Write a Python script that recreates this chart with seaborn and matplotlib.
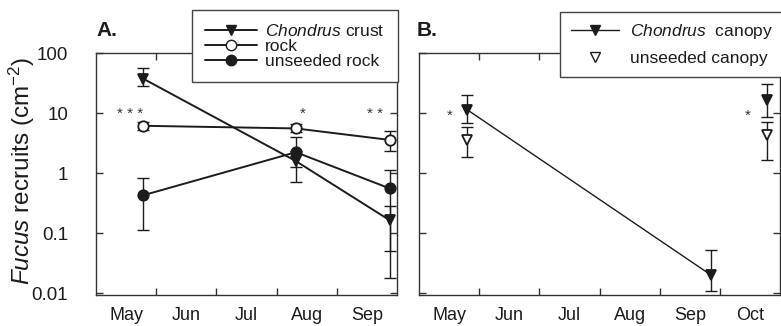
import numpy as np
import pandas as pd
import matplotlib
matplotlib.use("Agg")
import matplotlib.pyplot as plt
import seaborn as sns
from matplotlib.lines import Line2D
from matplotlib.ticker import NullLocator

# sampling dates as month number (5.0 = 1 May)
months_a = ["May", "Jun", "Jul", "Aug", "Sep"]
months_b = ["May", "Jun", "Jul", "Aug", "Sep", "Oct"]

# panel A: Fucus recruits per cm2, mean with lower / upper error
date_a = [5.78, 8.32, 9.88]
crust = [38, 1.6, 0.165]
crust_lo = [28, 0.72, 0.018]
crust_hi = [56, 2.4, 0.29]
rock = [6.2, 5.6, 3.6]
rock_lo = [5.3, 4.8, 2.4]
rock_hi = [7.2, 6.6, 5.0]
unseeded = [0.43, 2.25, 0.56]
unseeded_lo = [0.115, 1.3, 0.05]
unseeded_hi = [0.83, 4.0, 1.15]

# panel B
date_b = [5.8, 9.86, 10.79]
canopy = [11.5, 0.02, 16.7]
canopy_lo = [6.9, 0.011, 8.6]
canopy_hi = [20, 0.052, 31]
date_bu = [5.8, 10.79]
unseeded_canopy = [3.6, 4.3]
unseeded_canopy_lo = [1.9, 1.67]
unseeded_canopy_hi = [5.9, 7.2]

ink = "#1c1c1c"
ms = 7.5

sns.set_style("ticks")
plt.rcParams["font.family"] = ["Liberation Sans", "DejaVu Sans"]
plt.rcParams["mathtext.fontset"] = "custom"
plt.rcParams["mathtext.rm"] = "Liberation Sans"
plt.rcParams["mathtext.it"] = "Liberation Sans:italic"
plt.rcParams["text.color"] = ink
plt.rcParams["axes.edgecolor"] = "#333333"
plt.rcParams["xtick.color"] = "#333333"
plt.rcParams["ytick.color"] = "#333333"
plt.rcParams["xtick.labelcolor"] = ink
plt.rcParams["ytick.labelcolor"] = ink

fig = plt.figure(figsize=(7.81, 3.26), dpi=100)
axA = fig.add_axes([96 / 781, 31 / 326, 301 / 781, 241.7 / 326])
axB = fig.add_axes([419 / 781, 31 / 326, 361 / 781, 241.7 / 326])


def series(ax, x, y, lo, hi, marker, mfc, lw=1.4, line=True):
    df = pd.DataFrame({"x": x, "y": y})
    sns.lineplot(data=df, x="x", y="y", ax=ax, color=ink, lw=lw if line else 0,
                 marker=marker, markersize=ms, markerfacecolor=mfc,
                 markeredgecolor=ink, markeredgewidth=1.3, zorder=3)
    yerr = [np.array(y) - np.array(lo), np.array(hi) - np.array(y)]
    ax.errorbar(x, y, yerr=yerr, fmt="none", ecolor=ink, elinewidth=1,
                capsize=4, capthick=1, zorder=2)


series(axA, date_a, crust, crust_lo, crust_hi, "v", ink)
series(axA, date_a, rock, rock_lo, rock_hi, "o", "white")
series(axA, date_a, unseeded, unseeded_lo, unseeded_hi, "o", ink)

series(axB, date_b[:2], canopy[:2], canopy_lo[:2], canopy_hi[:2], "v", ink, lw=1.0)
series(axB, date_b[2:], canopy[2:], canopy_lo[2:], canopy_hi[2:], "v", ink, line=False)
series(axB, date_bu, unseeded_canopy, unseeded_canopy_lo, unseeded_canopy_hi,
       "v", "white", line=False)

# significance stars
for x, s in [(5.56, "* * *"), (8.44, "*"), (9.63, "* *")]:
    axA.text(x, 9.8, s, ha="center", va="center", fontsize=11, color="#333333")
for x in [5.51, 10.47]:
    axB.text(x, 9.0, "*", ha="center", va="center", fontsize=11, color="#333333")

for ax, months in [(axA, months_a), (axB, months_b)]:
    ax.set_yscale("log")
    ax.set_ylim(0.0094, 100)
    ax.set_xlim(5, 5 + len(months))
    ax.set_xticks(np.arange(6, 5 + len(months)))
    ax.set_xticklabels([])
    ax.set_xticks(np.arange(5.5, 5 + len(months)), minor=True)
    ax.set_xticklabels(months, minor=True, fontsize=13)
    ax.set_yticks([0.01, 0.1, 1, 10, 100])
    ax.yaxis.set_minor_locator(NullLocator())
    ax.tick_params(which="major", direction="in", top=True, right=True,
                   length=5, width=1)
    ax.tick_params(axis="x", which="minor", length=0, pad=9)
    ax.set_xlabel("")
    ax.set_ylabel("")
    for sp in ax.spines.values():
        sp.set_linewidth(1)

axA.set_yticklabels(["0.01", "0.1", "1", "10", "100"], fontsize=13.5)
axA.tick_params(axis="y", pad=20)
axB.set_yticklabels([])

fig.text(22 / 781, 0.5 - 8 / 326, r"$\it{Fucus}$ recruits (cm$^{-2}$)", rotation=90,
         ha="center", va="center", fontsize=17.5)
fig.text(96 / 781, 1 - 31 / 326, "A.", fontsize=15, fontweight="bold", va="center")
fig.text(417 / 781, 1 - 31 / 326, "B.", fontsize=15, fontweight="bold", va="center")

hA = [
    Line2D([], [], color=ink, lw=1.4, marker="v", markersize=ms, mfc=ink, mec=ink),
    Line2D([], [], color=ink, lw=1.4, marker="o", markersize=ms, mfc="white", mec=ink),
    Line2D([], [], color=ink, lw=1.4, marker="o", markersize=ms, mfc=ink, mec=ink),
]
legA = fig.legend(hA, [r"$\it{Chondrus}$ crust", "rock", "unseeded rock"],
                  loc="upper right", bbox_to_anchor=(398 / 781, 1 - 10 / 326),
                  fontsize=12.5, labelspacing=0.0, handlelength=3.0,
                  handletextpad=0.5, borderpad=0.75, borderaxespad=0,
                  fancybox=False, framealpha=1, edgecolor="#444444")
legA.get_frame().set_linewidth(1)

hB = [
    Line2D([], [], color=ink, lw=1.0, marker="v", markersize=ms, mfc=ink, mec=ink),
    Line2D([], [], color=ink, lw=0, marker="v", markersize=ms, mfc="white", mec=ink),
]
legB = fig.legend(hB, [r"$\it{Chondrus}$  canopy", "unseeded canopy"],
                  loc="upper right", bbox_to_anchor=(783 / 781, 1 - 12 / 326),
                  fontsize=12.5, labelspacing=0.55, handlelength=2.8,
                  handletextpad=0.6, borderpad=0.6, borderaxespad=0,
                  fancybox=False, framealpha=1, edgecolor="#444444")
legB.get_frame().set_linewidth(1)

fig.savefig("out.png", dpi=100)
